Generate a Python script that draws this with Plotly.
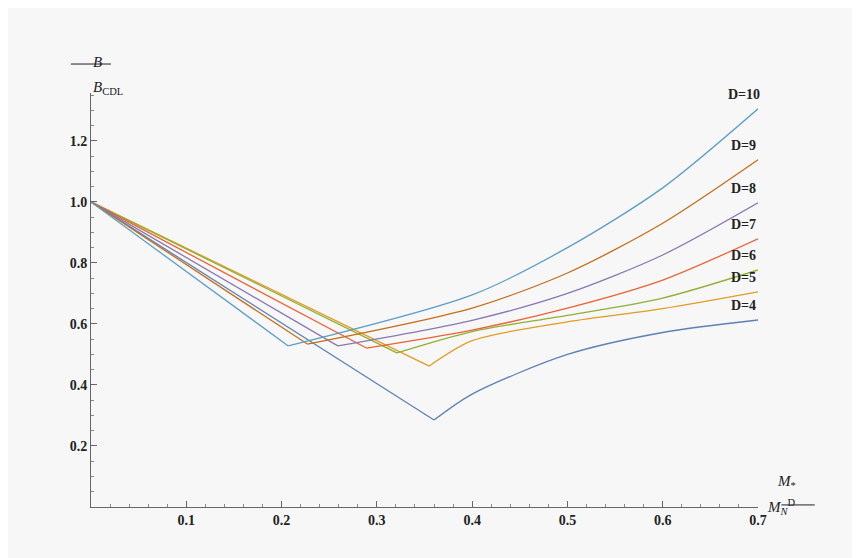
import plotly.graph_objects as go

labels = ["D=4", "D=5", "D=6", "D=7", "D=8", "D=9", "D=10"]
colors = ["#5e81b5", "#e19c24", "#8fb032", "#eb6235", "#8778b3", "#c56e1a", "#5d9ec7"]
mins_x = [0.360, 0.355, 0.321, 0.289, 0.259, 0.227, 0.207]
mins_y = [0.285, 0.462, 0.505, 0.521, 0.528, 0.534, 0.528]
right_x = [0.4, 0.5, 0.6, 0.7]
right_y = [
    [0.370, 0.500, 0.572, 0.613],
    [0.545, 0.607, 0.650, 0.705],
    [0.575, 0.628, 0.685, 0.777],
    [0.580, 0.652, 0.744, 0.879],
    [0.612, 0.700, 0.826, 0.997],
    [0.652, 0.767, 0.930, 1.138],
    [0.695, 0.850, 1.046, 1.305],
]

fig = go.Figure()
for lab, c, mx, my, ry in zip(labels, colors, mins_x, mins_y, right_y):
    fig.add_trace(go.Scatter(x=[0.0, mx], y=[1.0, my], mode="lines",
                             line=dict(color=c, width=1.3), showlegend=False))
    xs = [mx] + [x for x in right_x if x > mx + 0.01]
    ys = [my] + [y for x, y in zip(right_x, ry) if x > mx + 0.01]
    fig.add_trace(go.Scatter(x=xs, y=ys, mode="lines",
                             line=dict(color=c, width=1.3, shape="spline", smoothing=0.8), showlegend=False))
    fig.add_annotation(x=0.685, y=ry[-1], text="<b>" + lab + "</b>", showarrow=False, yshift=14,
                       font=dict(family="Liberation Serif", size=14, color="#222"))

font = dict(family="Liberation Serif", size=14, color="#222", weight="bold")
fig.update_layout(
    width=860, height=558, paper_bgcolor="#f7f7f7", plot_bgcolor="#f7f7f7",
    margin=dict(l=83, r=110, t=85, b=59),
    xaxis=dict(range=[0, 0.7], tickvals=[0.1, 0.2, 0.3, 0.4, 0.5, 0.6, 0.7],
               ticktext=["0.1", "0.2", "0.3", "0.4", "0.5", "0.6", "0.7"],
               showgrid=False, zeroline=False, showline=True, linecolor="#666",
               ticks="inside", ticklen=6, tickcolor="#666", tickfont=font,
               minor=dict(dtick=0.02, ticks="inside", ticklen=3, tickcolor="#888")),
    yaxis=dict(range=[0, 1.357], tickvals=[0.2, 0.4, 0.6, 0.8, 1.0, 1.2],
               ticktext=["0.2", "0.4", "0.6", "0.8", "1.0", "1.2"],
               showgrid=False, zeroline=False, showline=True, linecolor="#666",
               ticks="inside", ticklen=6, tickcolor="#666", tickfont=font,
               minor=dict(dtick=0.05, ticks="inside", ticklen=3, tickcolor="#888")),
)
lf = dict(family="Liberation Serif", size=15, color="#222")
fig.add_annotation(xref="paper", yref="paper", x=0, y=1.07, yshift=12, text="<i>B</i>",
                   showarrow=False, font=lf)
fig.add_annotation(xref="paper", yref="paper", x=0, y=1.07, yshift=-13, text="<i>B</i><sub>CDL</sub>",
                   showarrow=False, font=lf)
fig.add_shape(type="line", xref="paper", yref="paper", x0=-0.03, x1=0.03, y0=1.07, y1=1.07,
              line=dict(color="#222", width=1))
fig.add_annotation(xref="paper", yref="paper", x=1.06, y=0.005, yshift=12, text="<i>M</i><sub>*</sub>",
                   showarrow=False, font=lf)
fig.add_annotation(xref="paper", yref="paper", x=1.06, y=0.005, yshift=-14, text="<i>M<sub>N</sub></i><sup>D</sup>",
                   showarrow=False, font=lf)
fig.add_shape(type="line", xref="paper", yref="paper", x0=1.035, x1=1.085, y0=0.005, y1=0.005,
              line=dict(color="#222", width=1))
fig.write_html("out.html")
